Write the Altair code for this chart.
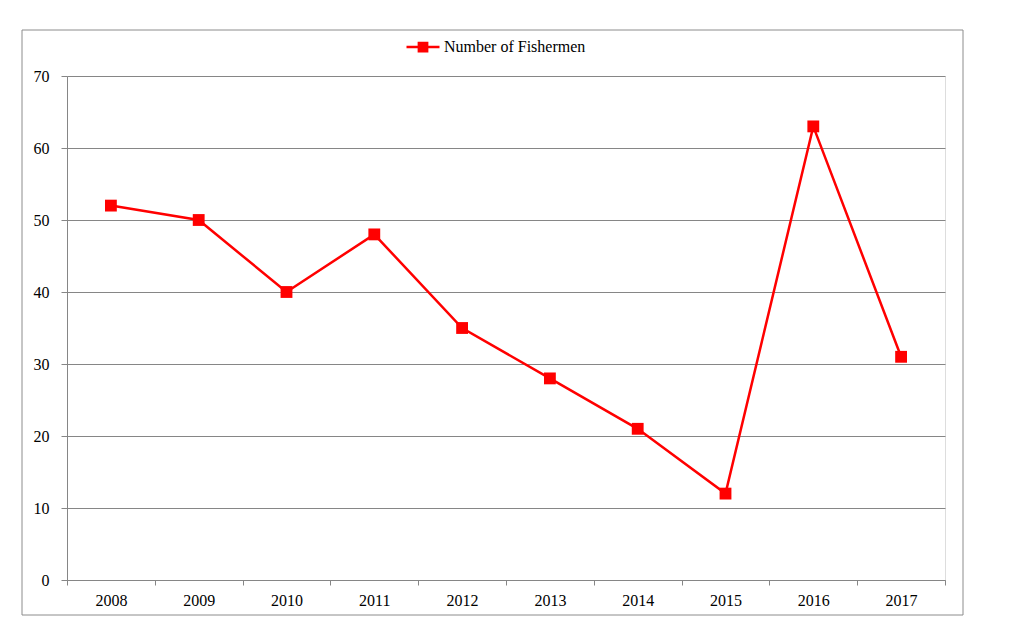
import altair as alt
import pandas as pd

years = ["2008", "2009", "2010", "2011", "2012", "2013", "2014", "2015", "2016", "2017"]
fishermen = [52, 50, 40, 48, 35, 28, 21, 12, 63, 31]
series_name = "Number of Fishermen"
y_ticks = [0, 10, 20, 30, 40, 50, 60, 70]

df = pd.DataFrame({"Year": years, "Value": fishermen, "Series": [series_name] * len(years)})

FONT = "Liberation Serif"
AX = "#868686"

frame = alt.Chart(alt.Data(values=[{}])).mark_rect(
    fill="white", fillOpacity=0, stroke="#8c8c8c", strokeWidth=1
).encode(
    x=alt.value(-45), x2=alt.value(896), y=alt.value(-46), y2=alt.value(539)
)

line = alt.Chart(df).mark_line(
    strokeWidth=2.5,
    point=alt.OverlayMarkDef(shape="square", size=140, filled=True, opacity=1),
).encode(
    x=alt.X("Year:O", sort=years,
            scale=alt.Scale(type="band", paddingInner=0, paddingOuter=0),
            axis=alt.Axis(title=None, labelAngle=0, tickBand="extent",
                          domainColor=AX, tickColor=AX, tickSize=5,
                          labelPadding=7, labelFont=FONT, labelFontSize=16,
                          labelColor="#000000", grid=False)),
    y=alt.Y("Value:Q",
            scale=alt.Scale(domain=[0, 70], nice=False),
            axis=alt.Axis(title=None, values=y_ticks, grid=True, gridColor=AX,
                          domainColor=AX, tickColor=AX, tickSize=6,
                          labelPadding=12, labelFont=FONT, labelFontSize=16,
                          labelColor="#000000")),
    color=alt.Color("Series:N",
                    scale=alt.Scale(domain=[series_name], range=["#ff0000"]),
                    legend=alt.Legend(title=None, orient="none", legendX=338, legendY=-47,
                                      symbolType="M-1,0L1,0M-0.25,-0.25L0.25,-0.25L0.25,0.25L-0.25,0.25Z",
                                      symbolSize=1089, symbolStrokeWidth=2.5,
                                      symbolFillColor="#c83737",
                                      labelFont=FONT, labelFontSize=16,
                                      labelColor="#000000", labelOffset=3)),
)

chart = alt.layer(frame, line).properties(
    width=878, height=504,
    autosize=alt.AutoSizeParams(type="none"),
    padding={"left": 59, "top": 68, "right": 57, "bottom": 45},
).configure_view(stroke=None).configure(background="white")

chart.save("out.html", embed_options={"renderer": "svg", "actions": False})
